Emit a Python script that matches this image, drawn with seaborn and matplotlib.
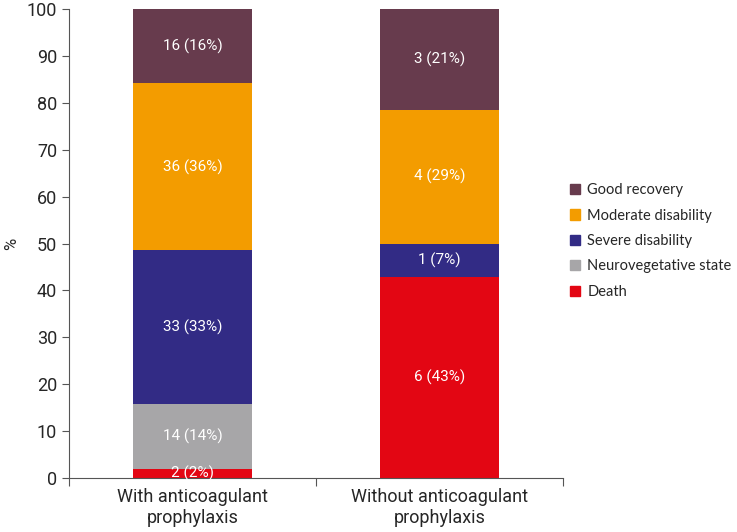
import numpy as np
import pandas as pd
import matplotlib
matplotlib.use("Agg")
import matplotlib.pyplot as plt
import seaborn as sns
from matplotlib.patches import Patch

# data
groups = ["With anticoagulant\nprophylaxis", "Without anticoagulant\nprophylaxis"]
outcomes = ["Death", "Neurovegetative state", "Severe disability",
            "Moderate disability", "Good recovery"]
with_counts = [2, 14, 33, 36, 16]
without_counts = [6, 0, 1, 4, 3]
colors = ["#e30613", "#a7a6a8", "#322b85", "#f39c00", "#673b4d"]

counts = np.array([with_counts, without_counts], dtype=float)
pct = counts / counts.sum(axis=1, keepdims=True) * 100

sns.set_style("ticks")
plt.rcParams['font.family'] = ['Roboto', 'DejaVu Sans']

fig = plt.figure(figsize=(7.37, 5.32), dpi=100)
ax = fig.add_axes([0.0936, 0.1015, 0.6705, 0.8815])

bottoms = np.zeros(len(groups))
for i, name in enumerate(outcomes):
    sns.barplot(x=list(range(len(groups))), y=pct[:, i], bottom=bottoms,
                color=colors[i], width=0.48, ax=ax, saturation=1,
                native_scale=True, linewidth=0)
    for j in range(len(groups)):
        if counts[j, i] > 0:
            ax.text(j, bottoms[j] + pct[j, i] / 2,
                    f"{int(counts[j, i])} ({pct[j, i]:.0f}%)",
                    ha='center', va='center', color='white', fontsize=11)
    bottoms = bottoms + pct[:, i]

ax.set_xlim(-0.5, 1.5)
ax.set_ylim(0, 100)
ax.set_yticks(range(0, 101, 10))
ax.set_xticks([-0.5, 0.5, 1.5])
ax.set_xticklabels([])
ax.set_xticks([0, 1], minor=True)
ax.set_xticklabels(groups, minor=True, fontsize=13, linespacing=1.25)
ax.tick_params(axis='x', which='minor', length=0, pad=7)
ax.tick_params(axis='x', which='major', length=6, color='#555555')
ax.tick_params(axis='y', labelsize=13, length=5, color='#555555')
ax.set_ylabel('%', fontsize=12)
ax.yaxis.set_label_coords(-0.1, 0.5)
sns.despine(ax=ax)
for s in ['left', 'bottom']:
    ax.spines[s].set_color('#555555')

handles = [Patch(color=colors[i], label=outcomes[i]) for i in range(len(outcomes))][::-1]
fig.legend(handles=handles, loc='center left', bbox_to_anchor=(0.773, 0.547),
           frameon=False, handlelength=0.7, handleheight=0.7,
           handletextpad=0.5, labelspacing=0.78, borderaxespad=0, borderpad=0,
           prop={'family': ['Lato', 'DejaVu Sans'], 'size': 10.5})

plt.savefig('out.png', dpi=100)
